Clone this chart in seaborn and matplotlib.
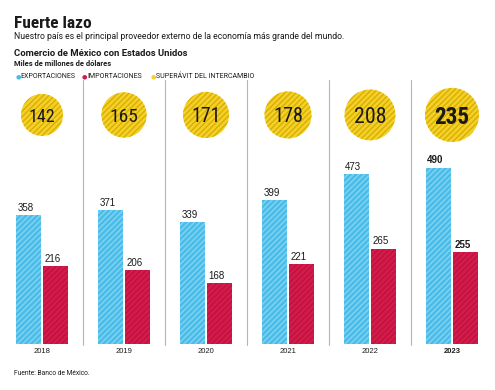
import matplotlib
matplotlib.use("Agg")
import matplotlib.pyplot as plt
import seaborn as sns
import pandas as pd
import numpy as np

# --- data (miles de millones de dolares) ---
years = ["2018", "2019", "2020", "2021", "2022", "2023"]
exportaciones = [358, 371, 339, 399, 473, 490]
importaciones = [216, 206, 168, 221, 265, 255]
superavit = [142, 165, 171, 178, 208, 235]
series = ["EXPORTACIONES", "IMPORTACIONES"]

BLUE, BLUE_H = "#48BDE9", "#86D3F0"
RED, RED_H = "#D41B4A", "#BD1240"
YELLOW, YELLOW_H = "#F4D12A", "#D9AE00"
GRAY = "#B5B5B5"
TXT = "#1A1A1A"

df = pd.DataFrame({
    "year": years * 2,
    "tipo": [series[0]] * len(years) + [series[1]] * len(years),
    "valor": exportaciones + importaciones,
})

sns.set_theme(style="white")
BASE = ["Roboto", "DejaVu Sans"]
COND = ["DejaVu Sans Condensed", "Roboto Condensed", "Roboto", "DejaVu Sans"]
REG = ["Liberation Sans", "DejaVu Sans"]
plt.rcParams["font.family"] = BASE
plt.rcParams["hatch.linewidth"] = 1.0

W, H = 495, 390
fig = plt.figure(figsize=(W / 100, H / 100), dpi=100)
fig.patch.set_facecolor("white")
ax = fig.add_axes([1 / W, 46 / H, 492 / W, 264 / H])

sns.barplot(data=df, x="year", y="valor", hue="tipo", order=years,
            hue_order=series, palette=[BLUE, RED], saturation=1,
            width=0.66, gap=0.05, legend=False, ax=ax)

hatch_cols = [BLUE_H, RED_H]
for ci, (cont, vals) in enumerate(zip(ax.containers, [exportaciones, importaciones])):
    for i, (bar, v) in enumerate(zip(cont, vals)):
        bar.set_hatch("//////")
        bar.set_edgecolor(hatch_cols[ci])
        bar.set_linewidth(0)
        ax.annotate(str(v), xy=(bar.get_x(), bar.get_height()),
                    xytext=(1.2, 1.5), textcoords="offset points",
                    ha="left", va="bottom", fontsize=7, color=TXT,
                    family=REG, weight="bold" if i == len(years) - 1 else "normal")

ax.set_xlim(-0.5, len(years) - 0.5)
ax.set_ylim(0, 733)

# superavit circles (area proportional to value)
xs = np.arange(len(years))
circ_y = 636
sizes = [6.44 * v for v in superavit]
ax.scatter(xs, [circ_y] * len(xs), s=sizes, c=YELLOW, edgecolors=YELLOW_H,
           linewidths=0, hatch="//////", zorder=3, clip_on=False)
for i, v in enumerate(superavit):
    ax.text(i, circ_y, str(v), ha="center", va="center_baseline",
            fontsize=13 * np.sqrt(v / superavit[0]), color=TXT, zorder=4,
            family=COND, weight="bold" if i == len(years) - 1 else "normal")

# separators
for x in xs[:-1] + 0.5:
    ax.axvline(x, ymin=-0.004, ymax=1, color=GRAY, lw=0.8, clip_on=False)

sns.despine(ax=ax, left=True, bottom=True)
ax.set_yticks([])
ax.set_xlabel("")
ax.set_ylabel("")
ax.tick_params(axis="x", length=0, pad=3)
for i, lab in enumerate(ax.get_xticklabels()):
    lab.set_fontsize(5.5)
    lab.set_family(REG)
    lab.set_color(TXT)
    if i == len(years) - 1:
        lab.set_weight("bold")


def fy(y):
    return 1 - y / H


fig.text(14 / W, fy(28), "Fuerte lazo", fontsize=12.5, weight="bold",
         color=TXT, va="baseline", family=COND)
fig.text(14 / W, fy(39), "Nuestro país es el principal proveedor externo de la economía más grande del mundo.",
         fontsize=6.2, color=TXT, va="baseline")
fig.text(14 / W, fy(56), "Comercio de México con Estados Unidos", fontsize=6.8,
         weight="bold", color=TXT, va="baseline")
fig.text(14 / W, fy(66), "Miles de millones de dólares", fontsize=5.4,
         weight="bold", color=TXT, va="baseline")

legend_items = [(16, 20, BLUE, "EXPORTACIONES"),
                (82, 87, RED, "IMPORTACIONES"),
                (151, 156, YELLOW, "SUPERÁVIT DEL INTERCAMBIO")]
for mx, tx, col, lab in legend_items:
    fig.text(mx / W, fy(78), "●", fontsize=4.5, color=col, va="baseline",
             family=["DejaVu Sans"])
    fig.text(tx / W, fy(78), lab, fontsize=5, color=TXT, va="baseline")

fig.text(14 / W, fy(375), "Fuente: Banco de México.", fontsize=4.8,
         color=TXT, va="baseline")

fig.savefig("out.png", dpi=100)
